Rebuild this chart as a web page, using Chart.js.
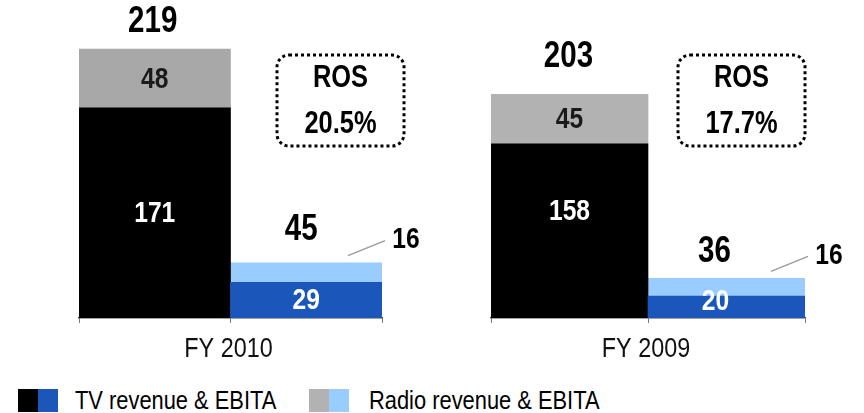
<!DOCTYPE html>
<html><head><meta charset="utf-8">
<script src="https://cdn.jsdelivr.net/npm/chart.js@4.4.1/dist/chart.umd.min.js"></script>
<style>
html,body{margin:0;padding:0;background:#fff;}
body{width:864px;height:413px;position:relative;overflow:hidden;font-family:'Liberation Sans',Arial,sans-serif;}
.panel{position:absolute;top:0;width:432px;height:370px;}
.sw{position:absolute;}
.lt{position:absolute;font-size:26.5px;color:#000;line-height:26px;white-space:nowrap;transform:scaleX(0.825);transform-origin:0 0;}
</style></head>
<body>
<div class="panel" style="left:0"><canvas id="c0" width="432" height="370"></canvas></div>
<div class="panel" style="left:432px"><canvas id="c1" width="432" height="370"></canvas></div>
<div id="legend"></div>
<script>
const FONT = "'Liberation Sans', Arial, sans-serif";
const NARROW = 0.82;
const years = ['FY 2010', 'FY 2009'];
const barKinds = ['Revenue', 'EBITA'];
const seriesNames = ['TV revenue & EBITA', 'Radio revenue & EBITA'];
const tvRevenue = [171, 158];
const radioRevenue = [48, 45];
const tvEbita = [29, 20];
const radioEbita = [16, 16];
const rosLabels = ['20.5%', '17.7%'];

const COLORS = { tvRev:'#000000', tvEb:'#1b57ba', radioRev:['#a8a8a8', '#b2b2b2'], radioEb:'#99ccff' };

// legend
const leg = document.getElementById('legend');
const legItems = [
  {name: seriesNames[0], c:[COLORS.tvRev, COLORS.tvEb], x:18, tx:75},
  {name: seriesNames[1], c:[COLORS.radioRev[1], COLORS.radioEb], x:309, tx:369}
];
legItems.forEach(it => {
  const a = document.createElement('div'); a.className='sw';
  a.style.cssText = `left:${it.x}px;top:389px;width:20px;height:23px;background:${it.c[0]}`;
  const b = document.createElement('div'); b.className='sw';
  b.style.cssText = `left:${it.x+20}px;top:389px;width:20px;height:23px;background:${it.c[1]}`;
  const t = document.createElement('div'); t.className='lt';
  t.style.cssText = `left:${it.tx}px;top:387px;`;
  t.textContent = it.name;
  leg.appendChild(a); leg.appendChild(b); leg.appendChild(t);
});

function narrowText(ctx, text, x, y, size, weight, color) {
  ctx.save();
  ctx.font = `${weight} ${size}px ${FONT}`;
  ctx.fillStyle = color;
  ctx.textAlign = 'center'; ctx.textBaseline = 'middle';
  ctx.translate(x, y); ctx.scale(NARROW, 1);
  ctx.fillText(text, 0, 0);
  ctx.restore();
}

const labelPlugin = {
  id: 'barLabels',
  afterDatasetsDraw(chart, args, o) {
    const ctx = chart.ctx;
    const m0 = chart.getDatasetMeta(0), m1 = chart.getDatasetMeta(1);
    const d0 = chart.data.datasets[0].data, d1 = chart.data.datasets[1].data;
    const ca = chart.chartArea;
    for (let j = 0; j < 2; j++) {
      const b0 = m0.data[j], b1 = m1.data[j];
      narrowText(ctx, String(d0[j]), b0.x + o.innerDx[j], (b0.y + b0.base) / 2 + o.innerDy[j], 30, 'bold', '#fff');
      narrowText(ctx, String(d0[j] + d1[j]), b1.x + o.totalDx[j], b1.y + o.totalDy[j], 36, 'bold', '#000');
    }
    const r = m1.data[0];
    narrowText(ctx, String(d1[0]), r.x, (r.y + r.base) / 2 + 1, 30, 'bold', '#1a1a1a');
    const e = m1.data[1];
    const right = e.x + e.width / 2;
    ctx.save();
    ctx.strokeStyle = '#9a9a9a'; ctx.lineWidth = 1.3;
    ctx.beginPath(); ctx.moveTo(right - 34, e.y - 7); ctx.lineTo(right + 3, e.y - 22); ctx.stroke();
    ctx.restore();
    narrowText(ctx, String(d1[1]), right + 24, e.y - 23, 30, 'bold', '#000');
    // category label under axis
    narrowText(ctx, o.year, (ca.left + ca.right) / 2 - 2, ca.bottom + 31, 28.5, 'normal', '#111');
    // ROS box
    const bx = o.box;
    ctx.save();
    ctx.strokeStyle = '#000'; ctx.lineWidth = 3; ctx.setLineDash([3, 3]);
    ctx.beginPath(); ctx.roundRect(bx.x, bx.y, bx.w, bx.h, 12); ctx.stroke();
    ctx.restore();
    const cx = bx.x + bx.w / 2, cy = bx.y + bx.h / 2;
    narrowText(ctx, 'ROS', cx, cy - 22, 31, 'bold', '#000');
    narrowText(ctx, o.ros, cx, cy + 24, 31, 'bold', '#000');
  }
};

function makeChart(id, i, opts) {
  new Chart(document.getElementById(id), {
    type: 'bar',
    data: {
      labels: barKinds,
      datasets: [
        { label: seriesNames[0], data: [tvRevenue[i], tvEbita[i]], backgroundColor: [COLORS.tvRev, COLORS.tvEb], barPercentage: 1, categoryPercentage: 1 },
        { label: seriesNames[1], data: [radioRevenue[i], radioEbita[i]], backgroundColor: [COLORS.radioRev[i], COLORS.radioEb], barPercentage: 1, categoryPercentage: 1 }
      ]
    },
    options: {
      responsive: false, animation: false,
      layout: { padding: opts.padding },
      plugins: {
        legend: { display: false }, tooltip: { enabled: false },
        barLabels: { totalDx: opts.totalDx, totalDy: opts.totalDy, innerDx: opts.innerDx, innerDy: opts.innerDy,
                     box: opts.box, ros: rosLabels[i], year: years[i] }
      },
      scales: {
        x: {
          stacked: true,
          grid: { display: true, drawOnChartArea: false, drawTicks: true, tickLength: 5, offset: true, color: '#777', lineWidth: 1 },
          border: { display: true, color: '#444', width: 1.5 },
          ticks: { display: false },
          title: { display: false }
        },
        y: { stacked: true, display: false, min: 0, max: opts.max }
      }
    },
    plugins: [labelPlugin]
  });
}

makeChart('c0', 0, { padding: { left: 79, right: 50, top: 20, bottom: 47 }, max: 242.6,
  totalDx: [-2, -5], totalDy: [-27, -33], innerDx: [0, 0], innerDy: [1, 1],
  box: { x: 277, y: 55, w: 127, h: 91 } });
makeChart('c1', 1, { padding: { left: 59, right: 59, top: 20, bottom: 47 }, max: 270.5,
  totalDx: [-1, -12], totalDy: [-37, -26], innerDx: [0, -11], innerDy: [-19, -5],
  box: { x: 246, y: 55, w: 127, h: 91 } });
</script>
</body></html>
